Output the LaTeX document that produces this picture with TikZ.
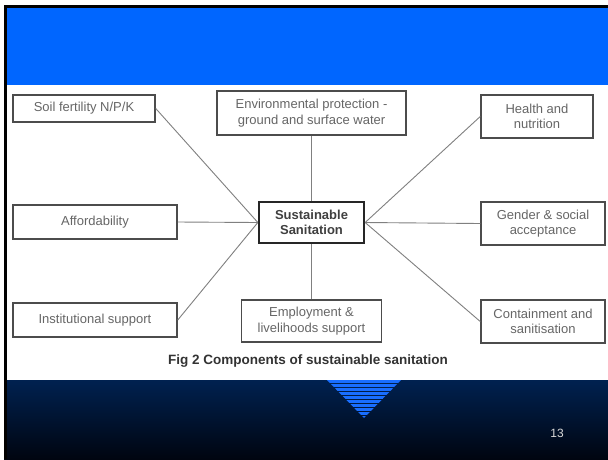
\documentclass[tikz,border=0pt]{standalone}
\usepackage{fontspec}
\setmainfont{Liberation Sans}
\usepackage{tikz}
\usetikzlibrary{shapes,arrows,positioning}
\definecolor{slideblue}{RGB}{0,102,255}
\definecolor{navytop}{RGB}{0,33,80}
\definecolor{navybot}{RGB}{0,5,16}
\definecolor{stripeblue}{RGB}{25,110,255}
\tikzstyle{comp} = [rectangle, align=center, text centered, draw=black!70, line width=1.5pt, fill=white, text=black!60, font=\fontsize{13}{15.6}\selectfont, inner sep=2pt]
\tikzstyle{core} = [comp, draw=black!85, line width=2.3pt, text=black!75, font=\fontsize{13}{15.6}\selectfont\bfseries]
\tikzstyle{link} = [black!50, line width=0.9pt]
\begin{document}
\begin{tikzpicture}[x=1pt,y=-1pt]
\useasboundingbox (0,0) rectangle (608,459);
% slide background
\fill[white] (0,0) rectangle (608,459);
\fill[slideblue] (4,5) rectangle (608,85);
\fill[black] (4,5) rectangle (608,8);
\shade[top color=navytop, bottom color=navybot] (4,380) rectangle (608,459);
\fill[black] (4,5) rectangle (7,459);
% striped triangle
\begin{scope}
\clip (327,380) -- (401,380) -- (364,418) -- cycle;
\foreach \k in {0,...,9}
  \fill[stripeblue] (320,{380+4*\k}) rectangle (410,{383+4*\k});
\end{scope}
% components
\node (sust) [core, minimum width=105pt, minimum height=41pt] at (311.5,222.5) {Sustainable\\Sanitation};
\node (soil) [comp, minimum width=142pt, minimum height=27pt] at (84,108.5) {Soil fertility N/P/K};
\node (env) [comp, minimum width=189pt, minimum height=44pt] at (311.5,113) {Environmental protection -\\ground and surface water};
\node (health) [comp, minimum width=112pt, minimum height=43pt] at (537,116.5) {Health and\\nutrition};
\node (afford) [comp, minimum width=164pt, minimum height=34pt] at (95,222) {Affordability};
\node (gender) [comp, minimum width=124pt, minimum height=43pt] at (543,223.5) {Gender \& social\\acceptance};
\node (inst) [comp, minimum width=164pt, minimum height=34pt] at (95,320) {Institutional support};
\node (employ) [comp, minimum width=140pt, minimum height=42pt] at (311.5,321) {Employment \&\\livelihoods support};
\node (contain) [comp, minimum width=124pt, minimum height=43pt] at (543,321.5) {Containment and\\sanitisation};
\node (cap) at (308,361) [text=black!80, font=\fontsize{13.5}{16}\selectfont\bfseries] {Fig 2 Components of sustainable sanitation};
\node (pagenum) at (557,433) [text=black!15, font=\fontsize{12}{14}\selectfont] {13};
% connectors
\draw [link] (soil.east) -- (sust.west);
\draw [link] (afford.east) -- (sust.west);
\draw [link] (inst.east) -- (sust.west);
\draw [link] (env.south) -- (sust.north);
\draw [link] (employ.north) -- (sust.south);
\draw [link] (health.west) -- (sust.east);
\draw [link] (gender.west) -- (sust.east);
\draw [link] (contain.west) -- (sust.east);
\end{tikzpicture}
\end{document}
